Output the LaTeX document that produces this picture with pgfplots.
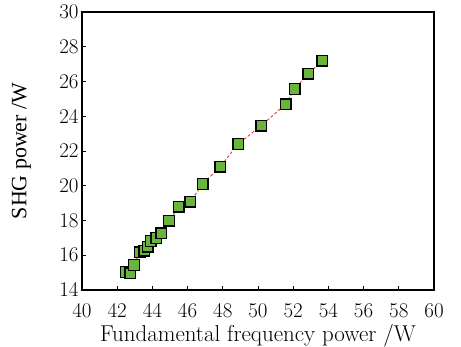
\documentclass[border=0pt]{standalone}
\usepackage{fontspec}
\setmainfont{Latin Modern Roman}
\newfontfamily\timesfont{Liberation Serif}
\usepackage{pgfplots}
\pgfplotsset{compat=1.18}
\definecolor{mgreen}{RGB}{104,180,60}
\definecolor{lred}{RGB}{232,60,50}
\begin{document}
\begin{tikzpicture}
\path[use as bounding box] (-82bp,-57bp) rectangle (379bp,290bp);
\begin{axis}[
  scale only axis,
  width=352bp, height=278bp,
  xmin=40, xmax=60, ymin=14, ymax=30,
  xtick={40,42,...,60}, ytick={14,16,...,30},
  tick align=inside,
  xtick pos=bottom, ytick pos=left,
  major tick length=4bp,
  /pgf/number format/assume math mode=true,
  axis line style={line width=1.1pt},
  tick style={line width=0.8pt, black},
  tick label style={font=\fontsize{21}{24}\selectfont},
  xlabel={Fundamental frequency power /W},
  ylabel={SHG power /W},
  xlabel style={font=\fontsize{23}{26}\selectfont, inner sep=0pt, at={(axis description cs:0.5,-0.187)}, anchor=base},
  ylabel style={font=\fontsize{22}{25}\timesfont, at={(axis description cs:-0.172,0.5)}, anchor=center},
  xticklabel style={anchor=base, inner sep=0pt, yshift=-27bp},
]
\addplot[lred, densely dashed, line width=0.9pt,
  mark=square*, mark size=5.3bp,
  mark options={solid, fill=mgreen, draw=black, line width=1.4pt}]
coordinates {
(42.5,15.04)
(42.75,14.96)
(42.96,15.44)
(43.27,16.17)
(43.55,16.26)
(43.74,16.49)
(43.91,16.82)
(44.22,16.99)
(44.50,17.26)
(44.94,17.99)
(45.49,18.79)
(46.15,19.08)
(46.86,20.10)
(47.86,21.10)
(48.87,22.40)
(50.18,23.46)
(51.57,24.69)
(52.08,25.57)
(52.86,26.45)
(53.66,27.20)
};
\end{axis}
\end{tikzpicture}
\end{document}
